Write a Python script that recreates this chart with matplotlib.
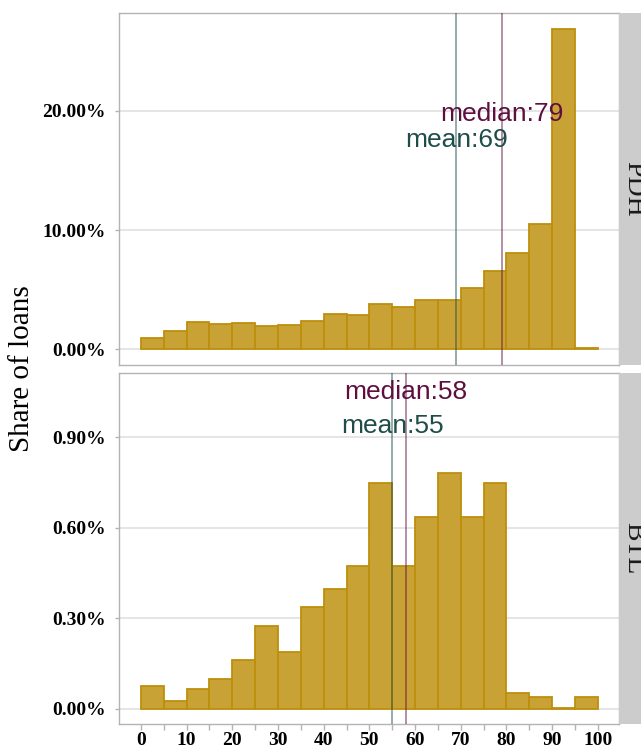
import numpy as np
import matplotlib
matplotlib.use("Agg")
import matplotlib.pyplot as plt
from matplotlib.patches import Rectangle
from matplotlib.ticker import FuncFormatter, MultipleLocator

# bins of width 5 from 0 to 100
bin_left = list(range(0, 100, 5))

# share of loans per bin (in %)
pdh_share = [0.97, 1.51, 2.32, 2.13, 2.18, 1.96, 2.04, 2.38, 2.94, 2.88,
             3.78, 3.53, 4.17, 4.17, 5.13, 6.61, 8.07, 10.53, 26.9, 0.08]
btl_share = [0.077, 0.028, 0.065, 0.101, 0.163, 0.276, 0.188, 0.338, 0.399, 0.474,
             0.747, 0.474, 0.636, 0.783, 0.636, 0.747, 0.052, 0.040, 0.002, 0.040]

pdh_mean, pdh_median = 69, 79
btl_mean, btl_median = 55, 58

panels = ["PDH", "BTL"]

fill_col = "#C9A235"
edge_col = "#BE8F0C"
mean_col = "#1E4D4A"
median_col = "#5E0F40"
grid_col = "#E3E3E3"
frame_col = "#B3B3B3"

W, H = 641, 753
fig = plt.figure(figsize=(W / 100, H / 100), dpi=100)

serif = "Liberation Serif"
sans = "Liberation Sans"


def fx(px):
    return px / W


def fy(py):
    return 1 - py / H


# panel boxes in pixels: (left, top, right, bottom)
left, right = 118.6, 619.4
boxes = [(13, 365), (373, 724)]
ylims = [(-1.31, 28.2), (-0.0497, 1.113)]
yticks = [[0, 10, 20], [0, 0.3, 0.6, 0.9]]
data = [pdh_share, btl_share]
stats = [(pdh_mean, pdh_median), (btl_mean, btl_median)]
# baseline positions of the labels (data units)
label_y = [(16.98, 19.16), (0.914, 1.028)]

for i, name in enumerate(panels):
    top, bot = boxes[i]
    ax = fig.add_axes([fx(left), fy(bot), fx(right) - fx(left), fy(top) - fy(bot)])
    ax.set_xlim(-4.9, 104.75)
    ax.set_ylim(*ylims[i])
    ax.set_yticks(yticks[i])
    ax.yaxis.set_major_formatter(FuncFormatter(lambda v, p: "%.2f%%" % v))
    ax.grid(axis="y", color=grid_col, linewidth=1.3)
    ax.set_axisbelow(True)

    ax.bar(bin_left, data[i], width=5, align="edge", color=fill_col,
           edgecolor=edge_col, linewidth=1.3, zorder=2)

    mean, median = stats[i]
    ax.axvline(mean, color=mean_col, alpha=0.5, linewidth=1.3, zorder=3)
    ax.axvline(median, color=median_col, alpha=0.5, linewidth=1.3, zorder=3)
    ax.text(mean, label_y[i][0], "mean:%d" % mean, color=mean_col, ha="center",
            va="baseline", fontsize=19, family=sans, zorder=4)
    ax.text(median, label_y[i][1], "median:%d" % median, color=median_col, ha="center",
            va="baseline", fontsize=19, family=sans, zorder=4)

    for s in ax.spines.values():
        s.set_color(frame_col)
        s.set_linewidth(1.0)

    ax.tick_params(axis="y", length=3, width=1, color=frame_col, pad=6,
                   labelsize=14)
    for lab in ax.get_yticklabels():
        lab.set_family(serif)
        lab.set_fontweight("bold")

    if i == 1:
        ax.xaxis.set_major_locator(MultipleLocator(10))
        ax.xaxis.set_minor_locator(MultipleLocator(5))
        ax.tick_params(axis="x", which="both", length=4, width=1, color=frame_col,
                       pad=2, labelsize=14)
        for lab in ax.get_xticklabels():
            lab.set_family(serif)
            lab.set_fontweight("bold")
    else:
        ax.tick_params(axis="x", which="both", length=0, labelbottom=False)

    # facet strip on the right, partly cut off by the figure edge
    sx0 = fx(right)
    strip = Rectangle((sx0, fy(bot)), fx(30), fy(top) - fy(bot),
                      transform=fig.transFigure, facecolor="#CCCCCC",
                      edgecolor="none", zorder=0)
    fig.patches.append(strip)
    fig.text(fx(634), (fy(top) + fy(bot)) / 2, name, rotation=270, ha="center",
             va="center", fontsize=20, family=serif, color="#1A1A1A")

fig.text(fx(22), fy(369), "Share of loans", rotation=90, ha="center", va="center",
         fontsize=21, family=serif, color="black")

fig.savefig("out.png", dpi=100)
